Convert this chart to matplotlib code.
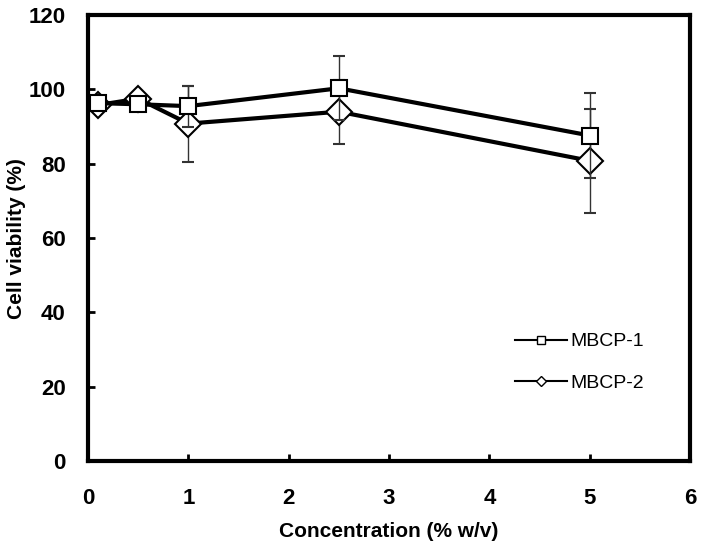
import matplotlib
matplotlib.use("Agg")
import matplotlib.pyplot as plt
from matplotlib.lines import Line2D

plt.rcParams['font.family'] = ['Liberation Sans', 'DejaVu Sans']
plt.rcParams['font.weight'] = 'bold'

conc = [0.1, 0.5, 1, 2.5, 5]
mbcp1 = [96.3, 96.0, 95.5, 100.3, 87.6]
mbcp1_err = [1.0, 1.0, 5.5, 8.6, 11.4]
mbcp2 = [95.8, 97.5, 90.8, 94.0, 80.8]
mbcp2_err = [1.0, 1.0, 10.2, 8.6, 14.0]

x_ticks = [0, 1, 2, 3, 4, 5, 6]
y_ticks = [0, 20, 40, 60, 80, 100, 120]


def main():
    fig = plt.figure(figsize=(7.05, 5.57), dpi=100)
    ax = fig.add_axes([0.1248, 0.172, 0.854, 0.801])

    ax.errorbar(conc, mbcp2, yerr=mbcp2_err, color='black', lw=3,
                marker='D', ms=13, mfc='white', mec='black', mew=1.5,
                ecolor='#333333', elinewidth=1.0, capsize=4, capthick=1.0, zorder=2)
    ax.errorbar(conc, mbcp1, yerr=mbcp1_err, color='black', lw=3,
                marker='s', ms=12, mfc='white', mec='black', mew=1.5,
                ecolor='#333333', elinewidth=1.0, capsize=4, capthick=1.0, zorder=3)

    ax.set_xlim(0, 6)
    ax.set_ylim(0, 120)
    ax.set_xticks(x_ticks)
    ax.set_yticks(y_ticks)
    ax.tick_params(direction='in', length=5, width=2, labelsize=16)
    ax.tick_params(axis='x', pad=19)
    ax.tick_params(axis='y', pad=16)
    for s in ax.spines.values():
        s.set_linewidth(3)

    ax.set_xlabel('Concentration (% w/v)', fontsize=15, fontweight='bold')
    ax.set_ylabel('Cell viability (%)', fontsize=15, fontweight='bold')
    ax.xaxis.set_label_coords(0.5, -0.137)
    ax.yaxis.set_label_coords(-0.103, 0.5)

    handles = [
        Line2D([], [], color='black', lw=1.5, marker='s', ms=6, mfc='white', mec='black', mew=1),
        Line2D([], [], color='black', lw=1.5, marker='D', ms=5, mfc='white', mec='black', mew=1),
    ]
    ax.legend(handles, ['MBCP-1', 'MBCP-2'], loc='upper left',
              bbox_to_anchor=(0.709, 0.288), frameon=False, borderpad=0,
              borderaxespad=0, handlelength=2.67, handletextpad=0.2,
              labelspacing=1.25,
              prop={'size': 14, 'weight': 'normal'})

    fig.savefig('out.png', dpi=100)


if __name__ == "__main__":
    main()
